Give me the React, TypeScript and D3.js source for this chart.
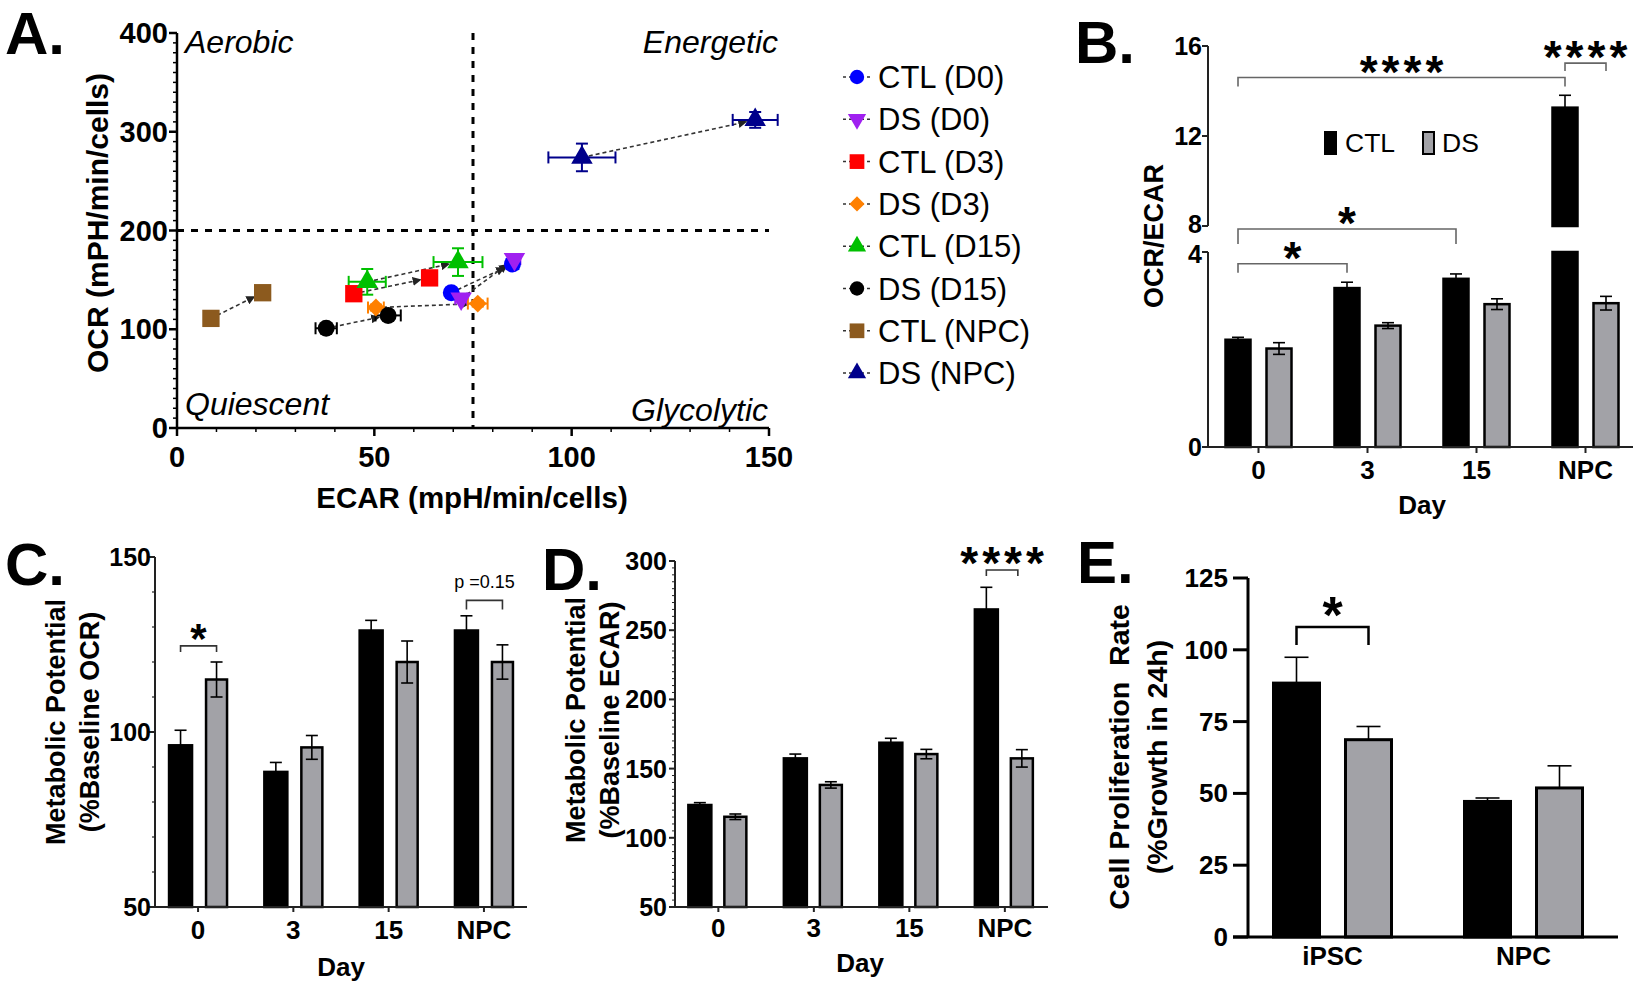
import React from 'react';
import * as d3 from 'd3';

const FONT = '"Liberation Sans", Arial, Helvetica, sans-serif';
const DS_FILL = '#a2a2a7';

// ---------------- Panel A data ----------------
const groupsA = ['CTL (D0)', 'DS (D0)', 'CTL (D3)', 'DS (D3)', 'CTL (D15)', 'DS (D15)', 'CTL (NPC)', 'DS (NPC)'];
const colorsA = ['#0000ff', '#a020f0', '#ff0000', '#ff8000', '#00c000', '#000000', '#8c5a1e', '#00008b'];
const shapesA = ['circle', 'triangleDown', 'square', 'diamond', 'triangle', 'circle', 'square', 'triangle'];
const ecar1 = [69.5, 72.0, 44.8, 50.4, 48.2, 37.8, 8.6, 102.6];
const ecar1Err = [1.2, 1.5, 1.0, 2.0, 4.7, 2.7, 1.0, 8.5];
const ocr1 = [137, 131, 136, 122, 148, 101, 111, 274];
const ocr1Err = [3, 3, 3, 3, 13, 3, 3, 14];
const ecar2 = [85.0, 85.5, 64.0, 76.2, 71.2, 53.5, 21.7, 146.5];
const ecar2Err = [1.5, 1.5, 1.0, 2.5, 6.2, 3.2, 1.0, 5.7];
const ocr2 = [166, 171, 152, 126, 168, 114, 137, 312];
const ocr2Err = [4, 4, 3, 3, 14, 4, 3, 8];
const ticksAX = [0, 50, 100, 150];
const ticksAY = [0, 100, 200, 300, 400];

// ---------------- Panel B data ----------------
const daysB = ['0', '3', '15', 'NPC'];
const ratioCTL = [2.2, 3.26, 3.45, 13.26];
const ratioCTLErr = [0.05, 0.12, 0.1, 0.55];
const ratioDS = [2.02, 2.49, 2.93, 2.95];
const ratioDSErr = [0.12, 0.06, 0.11, 0.14];
const ticksBLow = [0, 4];
const ticksBHigh = [8, 12, 16];
const sigBFrom = [0, 3, 0, 0];
const sigBFromSer = ['CTL', 'CTL', 'CTL', 'CTL'];
const sigBTo = [3, 3, 1, 2];
const sigBToSer = ['CTL', 'DS', 'CTL', 'CTL'];
const sigBLevel = [14.6, 15.24, 3.76, 7.54];
const sigBLabel = ['****', '****', '*', '*'];

// ---------------- Panel C data ----------------
const ocpCTL = [96.2, 88.6, 129.0, 129.0];
const ocpCTLErr = [4.3, 2.7, 2.9, 4.2];
const ocpDS = [115.0, 95.6, 120.0, 120.0];
const ocpDSErr = [5.0, 3.4, 6.0, 4.9];
const ticksC = [50, 100, 150];

// ---------------- Panel D data ----------------
const ecpCTL = [123.7, 157.4, 168.7, 265.0];
const ecpCTLErr = [1.7, 3.1, 3.2, 16.0];
const ecpDS = [115.2, 138.2, 160.5, 157.4];
const ecpDSErr = [2.0, 2.3, 3.4, 6.3];
const ticksD = [50, 100, 150, 200, 250, 300];

// ---------------- Panel E data ----------------
const cellsE = ['iPSC', 'NPC'];
const profCTL = [88.4, 47.2];
const profCTLErr = [9.0, 1.2];
const profDS = [68.7, 51.9];
const profDSErr = [4.6, 7.7];
const ticksE = [0, 25, 50, 75, 100, 125];

function markerPath(shape: string) {
  if (shape === 'circle') return d3.symbol().type(d3.symbolCircle).size(225)() as string;
  if (shape === 'square') return d3.symbol().type(d3.symbolSquare).size(300)() as string;
  if (shape === 'diamond') return d3.symbol().type(d3.symbolSquare).size(160)() as string;
  return d3.symbol().type(d3.symbolTriangle).size(200)() as string;
}
function markerRot(shape: string) {
  if (shape === 'triangleDown') return 180;
  if (shape === 'diamond') return 45;
  return 0;
}

function Marker({ x, y, shape, color, scale = 1 }: any) {
  return (
    <path
      d={markerPath(shape)}
      transform={`translate(${x},${y}) rotate(${markerRot(shape)}) scale(${scale})`}
      fill={color}
    />
  );
}

function ErrX({ x0, x1, y, color, cap = 6, w = 2 }: any) {
  return (
    <g stroke={color} strokeWidth={w} fill="none">
      <line x1={x0} x2={x1} y1={y} y2={y} />
      <line x1={x0} x2={x0} y1={y - cap} y2={y + cap} />
      <line x1={x1} x2={x1} y1={y - cap} y2={y + cap} />
    </g>
  );
}
function ErrY({ y0, y1, x, color, cap = 6, w = 2 }: any) {
  return (
    <g stroke={color} strokeWidth={w} fill="none">
      <line x1={x} x2={x} y1={y0} y2={y1} />
      <line x1={x - cap} x2={x + cap} y1={y0} y2={y0} />
      <line x1={x - cap} x2={x + cap} y1={y1} y2={y1} />
    </g>
  );
}

function PanelA() {
  const x = d3.scaleLinear().domain([0, 150]).range([177, 769]);
  const y = d3.scaleLinear().domain([0, 400]).range([428, 33]);
  const minorX = d3.range(0, 151, 10).filter((v) => v % 50 !== 0);
  const minorY = d3.range(0, 401, 10).filter((v) => v % 100 !== 0);
  const legendY = (i: number) => 77 + i * 42.3;
  return (
    <g fontFamily={FONT}>
      <defs>
        <marker id="arrA" viewBox="0 0 10 10" refX="9" refY="5" markerWidth="9" markerHeight="9"
          markerUnits="userSpaceOnUse" orient="auto">
          <path d="M0,0 L10,5 L0,10 z" fill="#222" />
        </marker>
      </defs>
      <text x={5} y={54} fontSize={60} fontWeight={700}>A.</text>

      {/* quadrant separators */}
      <line x1={x(75)} x2={x(75)} y1={y(400)} y2={y(0)} stroke="#000" strokeWidth={3} strokeDasharray="7,7" />
      <line x1={x(0)} x2={x(150)} y1={y(200)} y2={y(200)} stroke="#000" strokeWidth={3} strokeDasharray="7,7" />

      {/* quadrant labels */}
      <g fontStyle="italic" fontSize={32}>
        <text x={x(0) + 8} y={y(400) + 20}>Aerobic</text>
        <text x={x(150) + 9} y={y(400) + 20} textAnchor="end">Energetic</text>
        <text x={x(0) + 8} y={y(0) - 13}>Quiescent</text>
        <text x={x(150) - 1} y={y(0) - 7} textAnchor="end">Glycolytic</text>
      </g>

      {/* axes */}
      <g stroke="#000" strokeWidth={2.5}>
        <line x1={x(0)} x2={x(150)} y1={y(0)} y2={y(0)} />
        <line x1={x(0)} x2={x(0)} y1={y(0)} y2={y(400)} />
        {ticksAX.map((t) => <line key={'ax' + t} x1={x(t)} x2={x(t)} y1={y(0)} y2={y(0) + 8} />)}
        {ticksAY.map((t) => <line key={'ay' + t} x1={x(0) - 8} x2={x(0)} y1={y(t)} y2={y(t)} />)}
      </g>
      <g stroke="#000" strokeWidth={1.5}>
        {minorX.map((t) => <line key={'mx' + t} x1={x(t)} x2={x(t)} y1={y(0)} y2={y(0) + 4} />)}
        {minorY.map((t) => <line key={'my' + t} x1={x(0) - 4} x2={x(0)} y1={y(t)} y2={y(t)} />)}
      </g>
      <g fontSize={29} fontWeight={700}>
        {ticksAX.map((t) => (
          <text key={'tx' + t} x={x(t)} y={y(0) + 39} textAnchor="middle">{t}</text>
        ))}
        {ticksAY.map((t) => (
          <text key={'ty' + t} x={x(0) - 9} y={y(t) + 10} textAnchor="end">{t}</text>
        ))}
      </g>
      <text x={472} y={508} fontSize={29.5} fontWeight={700} textAnchor="middle">ECAR (mpH/min/cells)</text>
      <text transform="translate(108,223) rotate(-90)" fontSize={30} fontWeight={700} textAnchor="middle">
        OCR (mPH/min/cells)
      </text>

      {/* arrows between the two states */}
      {groupsA.map((g, i) => {
        const px1 = x(ecar1[i]), py1 = y(ocr1[i]);
        const px2 = x(ecar2[i]), py2 = y(ocr2[i]);
        const len = Math.hypot(px2 - px1, py2 - py1);
        const k = (len - 9) / len;
        return (
          <line key={'arr' + g} x1={px1} y1={py1} x2={px1 + (px2 - px1) * k} y2={py1 + (py2 - py1) * k}
            stroke="#333" strokeWidth={1.6} strokeDasharray="4,3" markerEnd="url(#arrA)" />
        );
      })}

      {/* error bars */}
      {groupsA.map((g, i) => (
        <g key={'err' + g}>
          <ErrX x0={x(ecar1[i] - ecar1Err[i])} x1={x(ecar1[i] + ecar1Err[i])} y={y(ocr1[i])} color={colorsA[i]} />
          <ErrY y0={y(ocr1[i] - ocr1Err[i])} y1={y(ocr1[i] + ocr1Err[i])} x={x(ecar1[i])} color={colorsA[i]} />
          <ErrX x0={x(ecar2[i] - ecar2Err[i])} x1={x(ecar2[i] + ecar2Err[i])} y={y(ocr2[i])} color={colorsA[i]} />
          <ErrY y0={y(ocr2[i] - ocr2Err[i])} y1={y(ocr2[i] + ocr2Err[i])} x={x(ecar2[i])} color={colorsA[i]} />
        </g>
      ))}

      {/* markers */}
      {groupsA.map((g, i) => (
        <g key={'mk' + g}>
          <Marker x={x(ecar1[i])} y={y(ocr1[i])} shape={shapesA[i]} color={colorsA[i]} />
          <Marker x={x(ecar2[i])} y={y(ocr2[i])} shape={shapesA[i]} color={colorsA[i]} />
        </g>
      ))}

      {/* legend */}
      {groupsA.map((g, i) => (
        <g key={'lg' + g}>
          <line x1={843} x2={871} y1={legendY(i)} y2={legendY(i)} stroke="#333" strokeWidth={1.5} strokeDasharray="3,3" />
          <Marker x={857} y={legendY(i)} shape={shapesA[i]} color={colorsA[i]} scale={0.85} />
          <text x={878} y={legendY(i) + 11} fontSize={31}>{g}</text>
        </g>
      ))}
    </g>
  );
}

function Bars({ cats, ctl, ctlErr, ds, dsErr, cx, yv, segs, ctlOff, dsOff, cap, both, sw }: any) {
  return (
    <g>
      {cats.map((c: string, i: number) => {
        const c0 = cx(c);
        const ctlSeg = segs(ctl[i]);
        const dsSeg = segs(ds[i]);
        const cxc = c0 + (ctlOff[0] + ctlOff[1]) / 2;
        const cxd = c0 + (dsOff[0] + dsOff[1]) / 2;
        return (
          <g key={'b' + c}>
            {ctlSeg.map((s: number[], k: number) => (
              <rect key={'c' + k} x={c0 + ctlOff[0]} width={ctlOff[1] - ctlOff[0]} y={s[0]} height={s[1] - s[0]}
                fill="#000" stroke="#000" strokeWidth={sw} />
            ))}
            {dsSeg.map((s: number[], k: number) => (
              <rect key={'d' + k} x={c0 + dsOff[0]} width={dsOff[1] - dsOff[0]} y={s[0]} height={s[1] - s[0]}
                fill={DS_FILL} stroke="#000" strokeWidth={sw} />
            ))}
            <g stroke="#000" strokeWidth={1.6}>
              <line x1={cxc} x2={cxc} y1={yv(ctl[i])} y2={yv(ctl[i] + ctlErr[i])} />
              <line x1={cxc - cap} x2={cxc + cap} y1={yv(ctl[i] + ctlErr[i])} y2={yv(ctl[i] + ctlErr[i])} />
              <line x1={cxd} x2={cxd} y1={yv(ds[i])} y2={yv(ds[i] + dsErr[i])} />
              <line x1={cxd - cap} x2={cxd + cap} y1={yv(ds[i] + dsErr[i])} y2={yv(ds[i] + dsErr[i])} />
              {both && (
                <>
                  <line x1={cxd} x2={cxd} y1={yv(ds[i])} y2={yv(ds[i] - dsErr[i])} />
                  <line x1={cxd - cap} x2={cxd + cap} y1={yv(ds[i] - dsErr[i])} y2={yv(ds[i] - dsErr[i])} />
                </>
              )}
            </g>
          </g>
        );
      })}
    </g>
  );
}

function Bracket({ x0, x1, y, drop, label, fs, gap, color, w }: any) {
  const isP = label.startsWith('p');
  return (
    <g>
      <path d={`M${x0},${y + drop} V${y} H${x1} V${y + drop}`} fill="none" stroke={color} strokeWidth={w} />
      <text x={(x0 + x1) / 2 + (isP ? 0 : 2)} y={y - gap} fontSize={fs} fontWeight={isP ? 400 : 700}
        textAnchor="middle" letterSpacing={isP ? 0 : 4}>{label}</text>
    </g>
  );
}

const mid = (o: number[]) => (o[0] + o[1]) / 2;

function PanelB() {
  const xb = d3.scaleBand().domain(daysB).range([1204, 1640]);
  const cx = (d: string) => (xb(d) as number) + xb.bandwidth() / 2;
  const yLow = d3.scaleLinear().domain([0, 4]).range([447, 252]);
  const yHigh = d3.scaleLinear().domain([8, 16]).range([226, 46]);
  const yGap = d3.scaleLinear().domain([4, 8]).range([252, 226]);
  const yv = (v: number) => (v <= 4 ? yLow(v) : v >= 8 ? yHigh(v) : yGap(v));
  const segs = (v: number) => (v > 8 ? [[yHigh(v), yHigh(8)], [yLow(4), yLow(0)]] : [[yLow(v), yLow(0)]]);
  const ctlOff = [-33, -8];
  const dsOff = [8, 33];
  const barC = (i: number, ser: string) => cx(daysB[i]) + (ser === 'CTL' ? mid(ctlOff) : mid(dsOff));
  const drops = [9, 8, 9, 15];
  return (
    <g fontFamily={FONT}>
      <text x={1075} y={63} fontSize={60} fontWeight={700}>B.</text>
      <Bars cats={daysB} ctl={ratioCTL} ctlErr={ratioCTLErr} ds={ratioDS} dsErr={ratioDSErr}
        cx={cx} yv={yv} segs={segs} ctlOff={ctlOff} dsOff={dsOff} cap={6} both={true} sw={2.5} />
      <g stroke="#222" strokeWidth={2}>
        <line x1={1208} x2={1208} y1={yHigh(8)} y2={yHigh(16)} />
        <line x1={1208} x2={1208} y1={yLow(0)} y2={yLow(4)} />
        <line x1={1208} x2={1633} y1={yLow(0)} y2={yLow(0)} />
        {ticksBHigh.map((t) => <line key={'h' + t} x1={1202} x2={1208} y1={yHigh(t)} y2={yHigh(t)} />)}
        {ticksBLow.map((t) => <line key={'l' + t} x1={1202} x2={1208} y1={yLow(t)} y2={yLow(t)} />)}
        {daysB.map((d) => <line key={'x' + d} x1={cx(d)} x2={cx(d)} y1={yLow(0)} y2={yLow(0) + 6} />)}
      </g>
      <g fontSize={25} fontWeight={700}>
        {ticksBHigh.map((t) => <text key={'th' + t} x={1202} y={yHigh(t) + (t === 8 ? 7 : 9)} textAnchor="end">{t}</text>)}
        {ticksBLow.map((t) => <text key={'tl' + t} x={1202} y={yLow(t) + (t === 4 ? 11 : 9)} textAnchor="end">{t}</text>)}
      </g>
      <g fontSize={26} fontWeight={700}>
        {daysB.map((d) => <text key={'tx' + d} x={cx(d)} y={479} textAnchor="middle">{d}</text>)}
      </g>
      <text x={1422} y={514} fontSize={26} fontWeight={700} textAnchor="middle">Day</text>
      <text transform="translate(1163,236) rotate(-90)" fontSize={27} fontWeight={700} textAnchor="middle">OCR/ECAR</text>
      {/* legend */}
      <rect x={1324} y={131} width={13} height={24} fill="#000" />
      <text x={1345} y={152} fontSize={26.5}>CTL</text>
      <rect x={1423} y={132} width={11} height={22} fill={DS_FILL} stroke="#000" strokeWidth={2} />
      <text x={1442} y={152} fontSize={26.5}>DS</text>
      {sigBLabel.map((lab, i) => (
        <Bracket key={'sb' + i} x0={barC(sigBFrom[i], sigBFromSer[i])} x1={barC(sigBTo[i], sigBToSer[i])}
          y={yv(sigBLevel[i])} drop={drops[i]} label={lab} fs={46} gap={-10} color="#666" w={1.6} />
      ))}
    </g>
  );
}

function PanelC() {
  const xb = d3.scaleBand().domain(daysB).range([150.4, 531.6]);
  const cx = (d: string) => (xb(d) as number) + xb.bandwidth() / 2;
  const y = d3.scaleLinear().domain([50, 150]).range([907, 557]);
  const segs = (v: number) => [[y(v), y(50)]];
  const ctlOff = [-29, -6];
  const dsOff = [8, 29];
  const minor = d3.range(50, 151, 10).filter((v) => v % 50 !== 0);
  const bc = (d: string, ser: string) => cx(d) + (ser === 'CTL' ? mid(ctlOff) : mid(dsOff));
  return (
    <g fontFamily={FONT}>
      <text x={5} y={585} fontSize={60} fontWeight={700}>C.</text>
      <Bars cats={daysB} ctl={ocpCTL} ctlErr={ocpCTLErr} ds={ocpDS} dsErr={ocpDSErr}
        cx={cx} yv={y} segs={segs} ctlOff={ctlOff} dsOff={dsOff} cap={6} both={true} sw={2.5} />
      <g stroke="#222" strokeWidth={2}>
        <line x1={155} x2={155} y1={y(50)} y2={y(150)} />
        <line x1={155} x2={527} y1={y(50)} y2={y(50)} />
        {ticksC.map((t) => <line key={'t' + t} x1={149} x2={155} y1={y(t)} y2={y(t)} />)}
        {daysB.map((d) => <line key={'x' + d} x1={cx(d)} x2={cx(d)} y1={y(50)} y2={y(50) + 5} />)}
      </g>
      <g stroke="#222" strokeWidth={1.2}>
        {minor.map((t) => <line key={'m' + t} x1={152} x2={155} y1={y(t)} y2={y(t)} />)}
      </g>
      <g fontSize={25} fontWeight={700}>
        {ticksC.map((t) => <text key={'ty' + t} x={151} y={y(t) + 9} textAnchor="end">{t}</text>)}
      </g>
      <g fontSize={26} fontWeight={700}>
        {daysB.map((d) => <text key={'tx' + d} x={cx(d)} y={939} textAnchor="middle">{d}</text>)}
      </g>
      <text x={341} y={976} fontSize={26} fontWeight={700} textAnchor="middle">Day</text>
      <g fontSize={27} fontWeight={700} textAnchor="middle">
        <text transform="translate(65,722) rotate(-90)">Metabolic Potential</text>
        <text transform="translate(99,722) rotate(-90)">(%Baseline OCR)</text>
      </g>
      <Bracket x0={bc('0', 'CTL')} x1={bc('0', 'DS')} y={y(124.6)} drop={6} label="*" fs={42} gap={-7} color="#333" w={1.6} />
      <Bracket x0={bc('NPC', 'CTL')} x1={bc('NPC', 'DS')} y={y(137.6)} drop={9} label="p =0.15" fs={18} gap={12} color="#333" w={1.6} />
    </g>
  );
}

function PanelD() {
  const xb = d3.scaleBand().domain(daysB).range([670.6, 1052.6]);
  const cx = (d: string) => (xb(d) as number) + xb.bandwidth() / 2;
  const y = d3.scaleLinear().domain([50, 300]).range([907, 561]);
  const segs = (v: number) => [[y(v), y(50)]];
  const ctlOff = [-30, -7];
  const dsOff = [6, 28];
  const minor = d3.range(50, 301, 5).filter((v) => v % 50 !== 0);
  const bc = (d: string, ser: string) => cx(d) + (ser === 'CTL' ? mid(ctlOff) : mid(dsOff));
  return (
    <g fontFamily={FONT}>
      <text x={542} y={590} fontSize={60} fontWeight={700}>D.</text>
      <Bars cats={daysB} ctl={ecpCTL} ctlErr={ecpCTLErr} ds={ecpDS} dsErr={ecpDSErr}
        cx={cx} yv={y} segs={segs} ctlOff={ctlOff} dsOff={dsOff} cap={6} both={true} sw={2.5} />
      <g stroke="#222" strokeWidth={2}>
        <line x1={675} x2={675} y1={y(50)} y2={y(300)} />
        <line x1={675} x2={1048} y1={y(50)} y2={y(50)} />
        {ticksD.map((t) => <line key={'t' + t} x1={669} x2={675} y1={y(t)} y2={y(t)} />)}
        {daysB.map((d) => <line key={'x' + d} x1={cx(d)} x2={cx(d)} y1={y(50)} y2={y(50) + 5} />)}
      </g>
      <g stroke="#222" strokeWidth={1}>
        {minor.map((t) => <line key={'m' + t} x1={672} x2={675} y1={y(t)} y2={y(t)} />)}
      </g>
      <g fontSize={25} fontWeight={700}>
        {ticksD.map((t) => <text key={'ty' + t} x={667} y={y(t) + 9} textAnchor="end">{t}</text>)}
      </g>
      <g fontSize={26} fontWeight={700}>
        {daysB.map((d) => <text key={'tx' + d} x={cx(d)} y={937} textAnchor="middle">{d}</text>)}
      </g>
      <text x={860} y={972} fontSize={26} fontWeight={700} textAnchor="middle">Day</text>
      <g fontSize={27} fontWeight={700} textAnchor="middle">
        <text transform="translate(585,720) rotate(-90)">Metabolic Potential</text>
        <text transform="translate(619,720) rotate(-90)">(%Baseline ECAR)</text>
      </g>
      <Bracket x0={bc('NPC', 'CTL')} x1={bc('NPC', 'DS') - 4} y={y(293.5)} drop={6} label="****" fs={46} gap={-9} color="#333" w={1.6} />
    </g>
  );
}

function PanelE() {
  const xb = d3.scaleBand().domain(cellsE).range([1237, 1619]);
  const cx = (d: string) => (xb(d) as number) + xb.bandwidth() / 2;
  const y = d3.scaleLinear().domain([0, 125]).range([937, 578]);
  const segs = (v: number) => [[y(v), y(0)]];
  const ctlOff = [-59, -13];
  const dsOff = [13, 59];
  const bc = (d: string, ser: string) => cx(d) + (ser === 'CTL' ? mid(ctlOff) : mid(dsOff));
  return (
    <g fontFamily={FONT}>
      <text x={1077} y={583} fontSize={60} fontWeight={700}>E.</text>
      <Bars cats={cellsE} ctl={profCTL} ctlErr={profCTLErr} ds={profDS} dsErr={profDSErr}
        cx={cx} yv={y} segs={segs} ctlOff={ctlOff} dsOff={dsOff} cap={12} both={false} sw={3} />
      <g stroke="#000" strokeWidth={3}>
        <line x1={1248} x2={1248} y1={y(0)} y2={y(125)} />
        <line x1={1233} x2={1618} y1={y(0)} y2={y(0)} />
        {ticksE.map((t) => <line key={'t' + t} x1={1233} x2={1248} y1={y(t)} y2={y(t)} />)}
      </g>
      <g fontSize={26} fontWeight={700}>
        {ticksE.map((t) => <text key={'ty' + t} x={1228} y={y(t) + 9} textAnchor="end">{t}</text>)}
        {cellsE.map((d) => <text key={'tx' + d} x={cx(d)} y={965} textAnchor="middle">{d}</text>)}
      </g>
      <g fontSize={28.5} fontWeight={700} textAnchor="middle">
        <text transform="translate(1129,757) rotate(-90)" style={{ whiteSpace: 'pre' }}>Cell Proliferation  Rate</text>
        <text transform="translate(1167,757) rotate(-90)">(%Growth in 24h)</text>
      </g>
      <Bracket x0={bc('iPSC', 'CTL')} x1={bc('iPSC', 'DS')} y={y(107.9)} drop={18} label="*" fs={52} gap={-6} color="#000" w={2.5} />
    </g>
  );
}

export default function App() {
  React.useEffect(() => {
    document.body.style.margin = '0';
  }, []);
  return (
    <svg width={1642} height={990} style={{ position: 'absolute', left: 0, top: 0, background: '#fff' }}>
      <rect x={0} y={0} width={1642} height={990} fill="#fff" />
      <PanelA />
      <PanelB />
      <PanelC />
      <PanelD />
      <PanelE />
    </svg>
  );
}
